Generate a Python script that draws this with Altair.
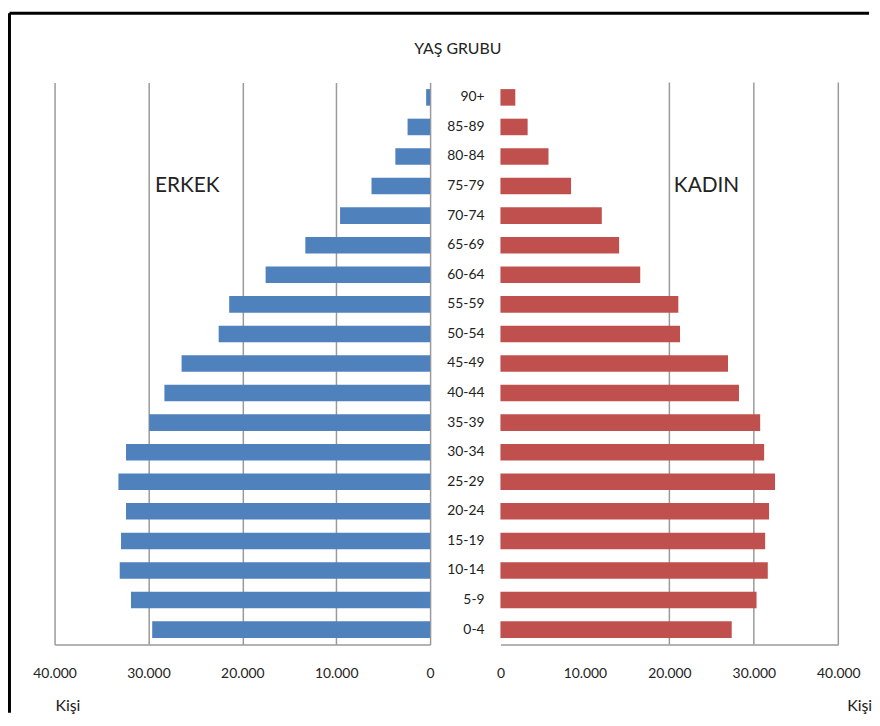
import altair as alt
import pandas as pd

# ---- data ----
age_groups = ["0-4", "5-9", "10-14", "15-19", "20-24", "25-29", "30-34", "35-39",
              "40-44", "45-49", "50-54", "55-59", "60-64", "65-69", "70-74",
              "75-79", "80-84", "85-89", "90+"]
male = [29600, 31860, 33060, 32920, 32390, 33200, 32390, 29920, 28300, 26470,
        22520, 21400, 17520, 13290, 9590, 6240, 3700, 2400, 420]
female = [27380, 30320, 31650, 31340, 31800, 32510, 31220, 30750, 28240, 26940,
          21260, 21060, 16550, 14050, 12000, 8360, 5690, 3220, 1760]
axis_values = [0, 10000, 20000, 30000, 40000]
right_grid = [20000, 30000, 40000]
title_text = "YAŞ GRUBU"
unit_text = "Kişi"
male_label = ["ERKEK"]
female_label = ["KADIN"]
label_pos_male = [25860]
label_pos_female = [24400]
label_row = ["75-79"]

df = pd.DataFrame({"age": age_groups, "male": male, "female": female})
order = age_groups[::-1]

H = 567
LW, MW, RW = 379, 71, 341
FONT = "Lato"
BLUE = "#4F81BD"
RED = "#C0504D"
GRID = "#9a9a9a"
TXT = "#222222"

yscale = alt.Scale(domain=order, paddingInner=0.44, paddingOuter=0.22)
y_enc = alt.Y("age:N", scale=yscale, axis=None)
label_expr = "replace(format(datum.value, ','), ',', '.')"


def x_axis(grid, title_x):
    return alt.Axis(values=axis_values, labelExpr=label_expr, grid=grid,
                    gridColor=GRID, gridWidth=1.5, domainColor=GRID, domainWidth=1.5,
                    ticks=False, labelPadding=22, labelFont=FONT, labelFontSize=14,
                    labelColor=TXT, labelFlush=False, title=unit_text,
                    titleX=title_x, titleY=62, titleFont=FONT, titleFontSize=16,
                    titleFontWeight="normal", titleColor=TXT, titleAlign="center",
                    titleBaseline="middle")


lscale = alt.Scale(domain=[0, 40000], reverse=True, nice=False)
rscale = alt.Scale(domain=[0, 40000], nice=False)
laxis = x_axis(True, 13)
raxis = x_axis(False, 362)

# ---- left (male) ----
left_bars = alt.Chart(df).mark_bar(color=BLUE).encode(
    x=alt.X("male:Q", scale=lscale, axis=laxis), y=y_enc)
left_text = alt.Chart(pd.DataFrame({"male": label_pos_male, "age": label_row,
                                    "t": male_label})).mark_text(
    font=FONT, fontSize=21, color=TXT).encode(
    x=alt.X("male:Q", scale=lscale, axis=laxis), y=y_enc, text="t:N")
frame_left = alt.Chart(pd.DataFrame({"k": [0]})).mark_rule(
    color="black", strokeWidth=3).encode(
    x=alt.value(-45.5), y=alt.value(-70), y2=alt.value(636))
frame_top = alt.Chart(pd.DataFrame({"k": [0]})).mark_rule(
    color="black", strokeWidth=3).encode(
    x=alt.value(-45.5), x2=alt.value(822), y=alt.value(-70))
left = alt.layer(left_bars, left_text, frame_left, frame_top).properties(
    width=LW, height=H)

# ---- middle (age labels) ----
mid_labels = alt.Chart(df).mark_text(
    font=FONT, fontSize=14, color=TXT, align="right").encode(
    x=alt.value(55), y=y_enc, text="age:N")
mid_title = alt.Chart(pd.DataFrame({"t": [title_text]})).mark_text(
    font=FONT, fontSize=16, color=TXT, align="center").encode(
    x=alt.value(28), y=alt.value(-34), text="t:N")
mid = alt.layer(mid_labels, mid_title).properties(width=MW, height=H)

# ---- right (female) ----
right_grid_rules = alt.Chart(pd.DataFrame({"female": right_grid})).mark_rule(
    color=GRID, strokeWidth=1.5).encode(
    x=alt.X("female:Q", scale=rscale, axis=raxis))
right_bars = alt.Chart(df).mark_bar(color=RED).encode(
    x=alt.X("female:Q", scale=rscale, axis=raxis), y=y_enc)
right_text = alt.Chart(pd.DataFrame({"female": label_pos_female, "age": label_row,
                                     "t": female_label})).mark_text(
    font=FONT, fontSize=21, color=TXT).encode(
    x=alt.X("female:Q", scale=rscale, axis=raxis), y=y_enc, text="t:N")
right = alt.layer(right_grid_rules, right_bars, right_text).properties(
    width=RW, height=H)

chart = alt.hconcat(left, mid, right, spacing=0, bounds="flush").properties(
    padding=0
).configure_view(strokeWidth=0)

chart.save("out.html", embed_options={"renderer": "svg", "actions": False})
